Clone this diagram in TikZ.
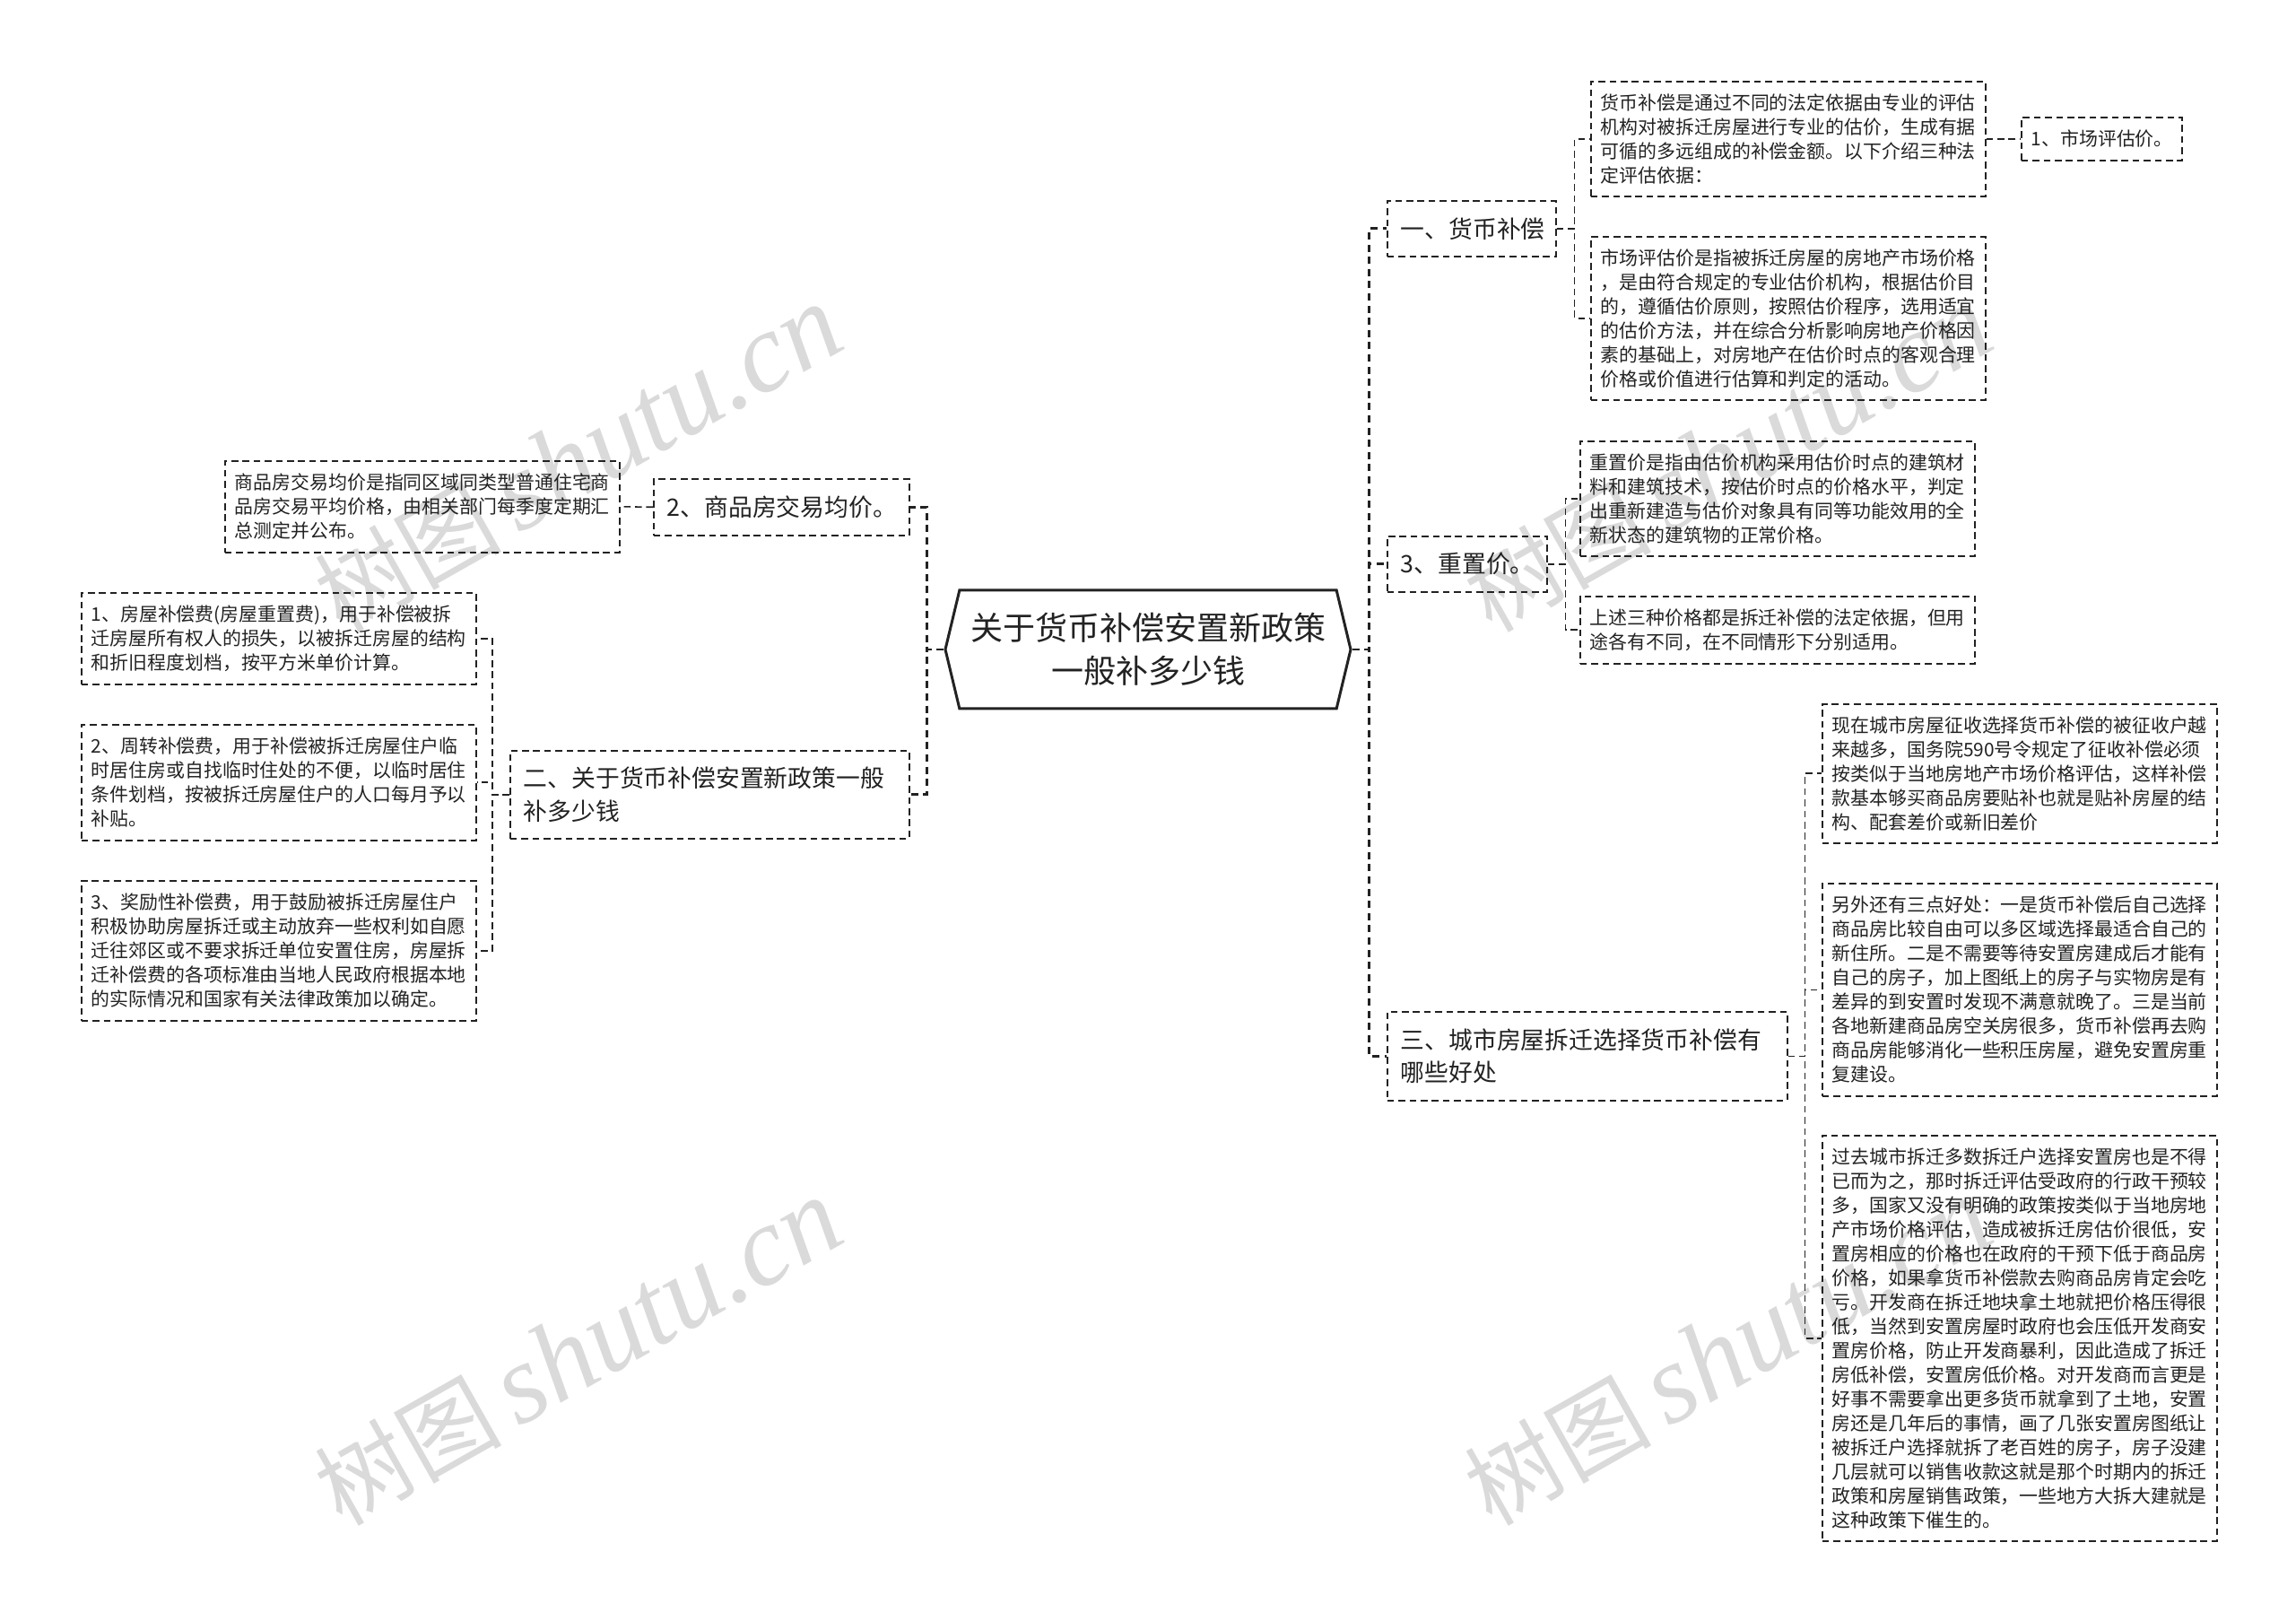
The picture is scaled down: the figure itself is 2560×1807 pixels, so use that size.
\documentclass[tikz,border=0pt]{standalone}
\usepackage{fontspec}
\setmainfont{Noto Sans CJK SC}
\newfontfamily\wmcjk[AutoFakeSlant=0.15]{Noto Sans CJK SC}
\newfontfamily\wmlatin{Liberation Serif}
\usepackage{xcolor}
\usetikzlibrary{shapes.symbols}
\definecolor{inkcol}{HTML}{222222}
\definecolor{wmcol}{HTML}{DADADA}
\newcommand{\wmtext}{{\fontsize{52}{52}\selectfont\wmcjk 树图}\hspace{9pt}{\fontsize{63}{63}\selectfont\wmlatin\itshape shutu.cn}}
\tikzset{
	rootnode/.style={draw=inkcol,line width=1.5pt,signal,signal to=east and west,signal pointer angle=153,minimum width=226pt,minimum height=66pt,inner sep=0pt,align=center,text=inkcol,font=\fontsize{18}{24}\selectfont},
	topic/.style={draw=inkcol,line width=.8pt,dash pattern=on 3.8pt off 2.4pt,anchor=north west,align=left,inner sep=0pt,inner xsep=7.5pt,text=inkcol,font=\fontsize{13.4}{18.3}\selectfont},
	leaf/.style={draw=inkcol,line width=.8pt,dash pattern=on 3.8pt off 2.4pt,anchor=north west,align=left,inner sep=0pt,inner xsep=5.5pt,text=inkcol,text width=209pt,font=\fontsize{10.45}{13.5}\selectfont},
	trunk/.style={draw=inkcol,line width=1.4pt,dash pattern=on 4pt off 2.8pt},
	twig/.style={draw=inkcol,line width=.8pt,dash pattern=on 3.8pt off 2.4pt},
	wmark/.style={text=wmcol,rotate=29.5,inner sep=0pt}
}
\begin{document}
\begin{tikzpicture}[x=.5pt,y=-.5pt]
	\useasboundingbox (0,0) rectangle (2560,1807);

	\node[wmark] (wma) at (645,512) {\wmtext};
	\node[wmark] (wmb) at (645,1508) {\wmtext};
	\node[wmark] (wmc) at (1927,512) {\wmtext};
	\node[wmark] (wmd) at (1927,1508) {\wmtext};

	\node[rootnode] (root) at (1280,724) {关于货币补偿安置新政策\\一般补多少钱};

	\node[topic,text width=79pt,minimum height=31pt] (huobi) at (1546,223) {一、货币补偿};
	\node[topic,text width=74pt,minimum height=31pt] (chongzhi) at (1546,597) {3、重置价。};
	\node[topic,text width=208pt,minimum height=49.5pt] (haochu) at (1546,1127) {三、城市房屋拆迁选择货币补偿有\\哪些好处};
	\node[topic,text width=127.5pt,minimum height=31.5pt] (junjia) at (728,533) {2、商品房交易均价。};
	\node[topic,text width=207.5pt,minimum height=49pt] (guanyu) at (568,836) {二、关于货币补偿安置新政策一般\\补多少钱};

	\node[leaf,minimum height=64pt] (huobia) at (1773,90) {货币补偿是通过不同的法定依据由专业的评估\\机构对被拆迁房屋进行专业的估价，生成有据\\可循的多远组成的补偿金额。以下介绍三种法\\定评估依据：};
	\node[leaf,text width=78.5pt,minimum height=24pt] (pinggu) at (2253,130) {1、市场评估价。};
	\node[leaf,minimum height=91pt] (huobib) at (1773,263) {市场评估价是指被拆迁房屋的房地产市场价格\\，是由符合规定的专业估价机构，根据估价目\\的，遵循估价原则，按照估价程序，选用适宜\\的估价方法，并在综合分析影响房地产价格因\\素的基础上，对房地产在估价时点的客观合理\\价格或价值进行估算和判定的活动。};
	\node[leaf,minimum height=64pt] (chonga) at (1761,491) {重置价是指由估价机构采用估价时点的建筑材\\料和建筑技术，按估价时点的价格水平，判定\\出重新建造与估价对象具有同等功能效用的全\\新状态的建筑物的正常价格。};
	\node[leaf,minimum height=37.5pt] (chongb) at (1761,664) {上述三种价格都是拆迁补偿的法定依据，但用\\途各有不同，在不同情形下分别适用。};
	\node[leaf,minimum height=77.5pt] (haoa) at (2031,784) {现在城市房屋征收选择货币补偿的被征收户越\\来越多，国务院590号令规定了征收补偿必须\\按类似于当地房地产市场价格评估，这样补偿\\款基本够买商品房要贴补也就是贴补房屋的结\\构、配套差价或新旧差价};
	\node[leaf,minimum height=118.5pt] (haob) at (2031,984) {另外还有三点好处：一是货币补偿后自己选择\\商品房比较自由可以多区域选择最适合自己的\\新住所。二是不需要等待安置房建成后才能有\\自己的房子，加上图纸上的房子与实物房是有\\差异的到安置时发现不满意就晚了。三是当前\\各地新建商品房空关房很多，货币补偿再去购\\商品房能够消化一些积压房屋，避免安置房重\\复建设。};
	\node[leaf,minimum height=226pt] (haoc) at (2031,1265) {过去城市拆迁多数拆迁户选择安置房也是不得\\已而为之，那时拆迁评估受政府的行政干预较\\多，国家又没有明确的政策按类似于当地房地\\产市场价格评估，造成被拆迁房估价很低，安\\置房相应的价格也在政府的干预下低于商品房\\价格，如果拿货币补偿款去购商品房肯定会吃\\亏。开发商在拆迁地块拿土地就把价格压得很\\低，当然到安置房屋时政府也会压低开发商安\\置房价格，防止开发商暴利，因此造成了拆迁\\房低补偿，安置房低价格。对开发商而言更是\\好事不需要拿出更多货币就拿到了土地，安置\\房还是几年后的事情，画了几张安置房图纸让\\被拆迁户选择就拆了老百姓的房子，房子没建\\几层就可以销售收款这就是那个时期内的拆迁\\政策和房屋销售政策，一些地方大拆大建就是\\这种政策下催生的。};
	\node[leaf,minimum height=51pt] (junmiao) at (250,513) {商品房交易均价是指同区域同类型普通住宅商\\品房交易平均价格，由相关部门每季度定期汇\\总测定并公布。};
	\node[leaf,minimum height=51pt] (feia) at (90,660) {1、房屋补偿费(房屋重置费)，用于补偿被拆\\迁房屋所有权人的损失，以被拆迁房屋的结构\\和折旧程度划档，按平方米单价计算。};
	\node[leaf,minimum height=64.5pt] (feib) at (90,807) {2、周转补偿费，用于补偿被拆迁房屋住户临\\时居住房或自找临时住处的不便，以临时居住\\条件划档，按被拆迁房屋住户的人口每月予以\\补贴。};
	\node[leaf,minimum height=78pt] (feic) at (90,981) {3、奖励性补偿费，用于鼓励被拆迁房屋住户\\积极协助房屋拆迁或主动放弃一些权利如自愿\\迁往郊区或不要求拆迁单位安置住房，房屋拆\\迁补偿费的各项标准由当地人民政府根据本地\\的实际情况和国家有关法律政策加以确定。};

	\draw[trunk] (root.east) -- ++(19,0) |- (huobi.west);
	\draw[trunk] (root.east) -- ++(19,0) |- (chongzhi.west);
	\draw[trunk] (root.east) -- ++(19,0) |- (haochu.west);
	\draw[trunk] (root.west) -- ++(-19,0) |- (junjia.east);
	\draw[trunk] (root.west) -- ++(-19,0) |- (guanyu.east);

	\draw[twig] (huobi.east) -- ++(20,0) |- (huobia.west);
	\draw[twig] (huobi.east) -- ++(20,0) |- (huobib.west);
	\draw[twig] (huobia.east) -- (pinggu.west);
	\draw[twig] (chongzhi.east) -- ++(20,0) |- (chonga.west);
	\draw[twig] (chongzhi.east) -- ++(20,0) |- (chongb.west);
	\draw[twig] (haochu.east) -- ++(19,0) |- (haoa.west);
	\draw[twig] (haochu.east) -- ++(19,0) |- (haob.west);
	\draw[twig] (haochu.east) -- ++(19,0) |- (haoc.west);
	\draw[twig] (junjia.west) -- (junmiao.east);
	\draw[twig] (guanyu.west) -- ++(-19,0) |- (feia.east);
	\draw[twig] (guanyu.west) -- ++(-19,0) |- (feib.east);
	\draw[twig] (guanyu.west) -- ++(-19,0) |- (feic.east);

\end{tikzpicture}
\end{document}
